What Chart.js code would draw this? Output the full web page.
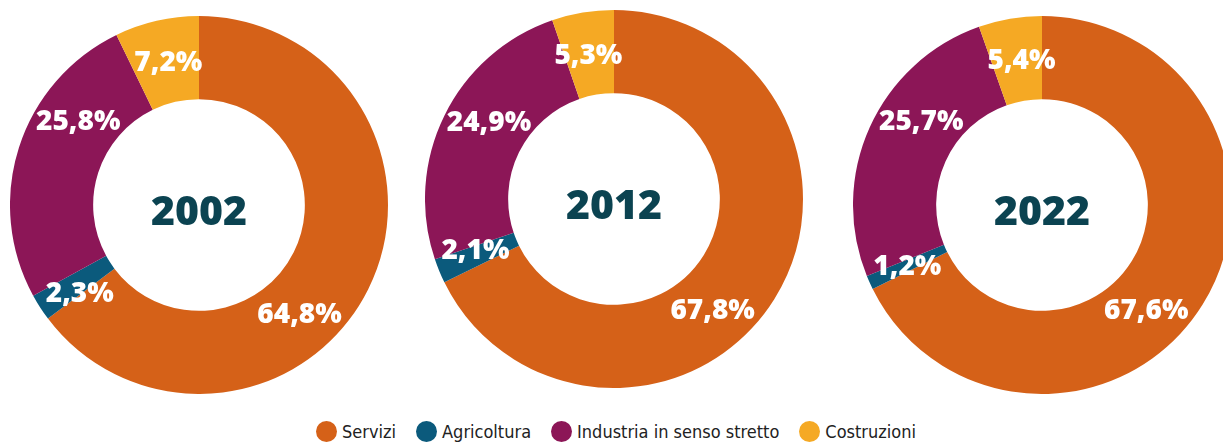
<!DOCTYPE html>
<html lang="it">
<head>
<meta charset="utf-8">
<script src="https://cdn.jsdelivr.net/npm/chart.js@4"></script>
<style>
  html, body { margin: 0; padding: 0; background: #fff; }
  body { width: 1223px; height: 443px; position: relative; overflow: hidden; }
  .donut { position: absolute; width: 378px; height: 378px; }
  #legend {
    position: absolute; left: 0; top: 421px; width: 1232px;
    display: flex; justify-content: center; align-items: center; gap: 20px;
    font-family: "DejaVu Sans Condensed", "DejaVu Sans", sans-serif;
    font-stretch: condensed; font-size: 18px; color: #222;
  }
  .item { display: flex; align-items: center; gap: 5px; }
  .dot { width: 21px; height: 21px; border-radius: 50%; display: inline-block; }
</style>
</head>
<body>
<div class="donut" style="left:10px;top:16px"><canvas id="c2002"></canvas></div>
<div class="donut" style="left:425px;top:10px"><canvas id="c2012"></canvas></div>
<div class="donut" style="left:853px;top:16px"><canvas id="c2022"></canvas></div>
<div id="legend"></div>
<script>
// ── Data ──────────────────────────────────────────────
const categories = ['Servizi', 'Agricoltura', 'Industria in senso stretto', 'Costruzioni'];
const years = ['2002', '2012', '2022'];
const share2002 = [64.8, 2.3, 25.8, 7.2];
const share2012 = [67.8, 2.1, 24.9, 5.3];
const share2022 = [67.6, 1.2, 25.7, 5.4];

// ── Style ─────────────────────────────────────────────
const colors = ['#D56118', '#0B5A7C', '#8C1657', '#F5A924'];
const yearColor = '#0B4351';
// where each value label sits, degrees clockwise from 12 o'clock
const labelAngles = {
    '2002': [137, 234, 305, 348],
    '2012': [138, 250, 302, 350],
    '2022': [135, 246, 305, 352]
};

const fmt = v => v.toFixed(1).replace('.', ',') + '%';

const donutLabels = {
    id: 'donutLabels',
    afterDatasetsDraw(chart, args, opts) {
        const ctx = chart.ctx;
        const meta = chart.getDatasetMeta(0);
        const arc = meta.data[0];
        const cx = arc.x, cy = arc.y;
        const r = (arc.outerRadius + arc.innerRadius) / 2;
        ctx.save();
        ctx.fillStyle = '#fff';
        ctx.font = '800 28px "Open Sans", sans-serif';
        ctx.textAlign = 'center';
        ctx.textBaseline = 'alphabetic';
        chart.data.datasets[0].data.forEach((v, i) => {
            const a = opts.angles[i] * Math.PI / 180;
            const x = cx + r * Math.sin(a);
            const y = cy - r * Math.cos(a);
            ctx.fillText(fmt(v), x, y + 10);
        });
        ctx.fillStyle = yearColor;
        ctx.font = '800 41px "Open Sans", sans-serif';
        ctx.fillText(opts.year, cx, cy + 20);
        ctx.restore();
    }
};

function makeDonut(year, values) {
    new Chart(document.getElementById('c' + year), {
        type: 'doughnut',
        data: {
            labels: categories,
            datasets: [{
                data: values,
                backgroundColor: colors,
                borderWidth: 0
            }]
        },
        options: {
            responsive: true,
            maintainAspectRatio: false,
            animation: false,
            cutout: '56%',
            layout: { padding: 0 },
            plugins: {
                legend: { display: false },
                tooltip: { enabled: false },
                donutLabels: { year: year, angles: labelAngles[year] }
            }
        },
        plugins: [donutLabels]
    });
}

makeDonut('2002', share2002);
makeDonut('2012', share2012);
makeDonut('2022', share2022);

document.getElementById('legend').innerHTML = categories.map((c, i) => `
    <span class="item"><span class="dot" style="background:${colors[i]}"></span>${c}</span>
`).join('');
</script>
</body>
</html>
